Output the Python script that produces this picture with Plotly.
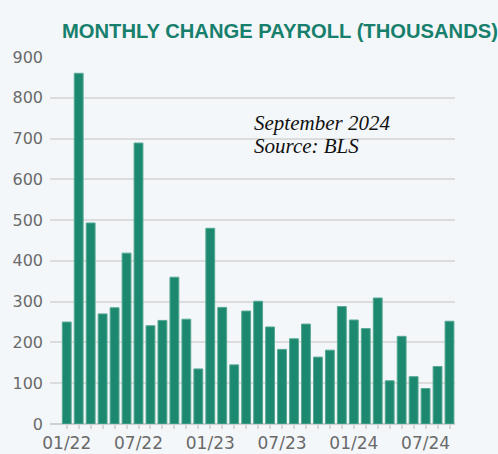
import plotly.graph_objects as go

months = ["01/22","02/22","03/22","04/22","05/22","06/22","07/22","08/22","09/22","10/22","11/22","12/22",
          "01/23","02/23","03/23","04/23","05/23","06/23","07/23","08/23","09/23","10/23","11/23","12/23",
          "01/24","02/24","03/24","04/24","05/24","06/24","07/24","08/24","09/24"]
payroll = [250, 860, 493, 270, 285, 419, 689, 241, 254, 360, 257, 135,
           480, 286, 145, 277, 301, 238, 183, 209, 245, 164, 181, 288,
           255, 234, 309, 106, 215, 116, 87, 141, 252]
y_ticks = [0, 100, 200, 300, 400, 500, 600, 700, 800, 900]
label_months = ["01/22", "07/22", "01/23", "07/23", "01/24", "07/24"]

idx = list(range(len(months)))
ticktext = [m if m in label_months else "" for m in months]

W, H = 498, 454
mt, mb, ml, mr = 57, 30, 50, 43

fig = go.Figure(go.Bar(
    x=idx, y=payroll,
    marker=dict(color="#1d8870", line=dict(color="#56a892", width=1)),
    hoverinfo="skip",
))

def py(p):
    return (H - mb - p) / (H - mt - mb)

note_font = dict(family="Liberation Serif", size=21, color="#111111", style="italic")

fig.update_layout(
    width=W, height=H,
    margin=dict(t=mt, b=mb, l=ml, r=mr, pad=0, autoexpand=False),
    paper_bgcolor="#f4f7fa", plot_bgcolor="#f4f7fa",
    bargap=0.26, showlegend=False,
    title=dict(text="<b>MONTHLY CHANGE PAYROLL (THOUSANDS)</b>",
               font=dict(family="Liberation Sans, Arial", size=20.2, color="#17806d"),
               xref="container", yref="container",
               x=62 / W, xanchor="left", y=1 - 30.5 / H, yanchor="middle"),
    xaxis=dict(range=[-1.4, 32.46], tickvals=idx, ticktext=ticktext,
               ticks="outside", ticklen=4, tickcolor="#d6d6d6", tickwidth=1.5,
               showgrid=False, zeroline=False, showline=False,
               tickfont=dict(family="DejaVu Sans", size=17, color="#6a6a6a")),
    yaxis=dict(range=[0, 900], tickvals=y_ticks,
               showgrid=True, gridcolor="#dcdcdc", gridwidth=1.5,
               zeroline=True, zerolinecolor="#d0d0d0", zerolinewidth=1.5,
               ticks="", ticklabelstandoff=6,
               tickfont=dict(family="DejaVu Sans", size=16, color="#6a6a6a")),
    annotations=[
        dict(text="September 2024", xref="paper", yref="paper",
             x=(252 - ml) / (W - ml - mr), y=py(123), xanchor="left", yanchor="middle",
             showarrow=False, font=note_font),
        dict(text="Source: BLS", xref="paper", yref="paper",
             x=(252 - ml) / (W - ml - mr), y=py(146), xanchor="left", yanchor="middle",
             showarrow=False, font=note_font),
    ],
)

fig.write_html("out.html", config={"displayModeBar": False},
               post_script="document.body.style.margin='0';document.body.style.overflow='hidden';")
